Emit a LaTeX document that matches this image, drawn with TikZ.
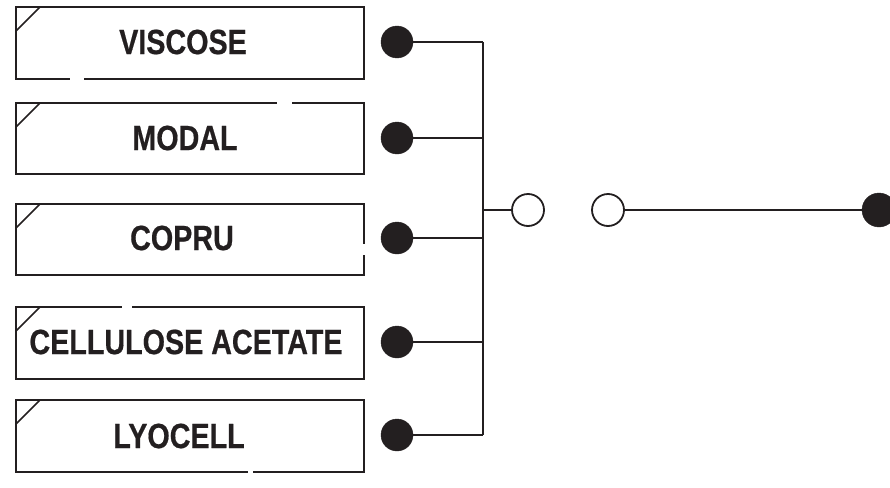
\documentclass[tikz,border=0pt]{standalone}
\usepackage{fontspec}
\usepackage{graphicx}
\setmainfont{Liberation Sans}
\newfontfamily\lblfont{Liberation Sans Bold}[FakeBold=0.6]
\definecolor{ink}{HTML}{231F20}
\begin{document}
\begin{tikzpicture}[x=1pt,y=1pt,
  fibrebox/.style={draw=ink, line width=1.8pt, minimum width=348pt, minimum height=72pt, inner sep=0pt, outer sep=0pt},
  lbl/.style={text=ink, font=\fontsize{35}{35}\lblfont, inner sep=0pt},
  bigdot/.style={circle, fill=ink, draw=ink, minimum size=32pt, inner sep=0pt},
  opendot/.style={circle, fill=white, draw=ink, line width=1.8pt, minimum size=32pt, inner sep=0pt},
  wire/.style={draw=ink, line width=1.8pt},
  gap/.style={fill=white, draw=none}]
\useasboundingbox (0,0) rectangle (890,-487);

% boxes
\node[fibrebox] (b1) at (190,-43) {};
\node[fibrebox, minimum height=71pt] (b2) at (190,-138.5) {};
\node[fibrebox, minimum height=71pt] (b3) at (190,-239.5) {};
\node[fibrebox] (b4) at (190,-343) {};
\node[fibrebox] (b5) at (190,-436) {};

% corner ticks
\foreach \b in {b1,b2,b3,b4,b5}{
  \draw[wire, line width=1.6pt] ([yshift=-24pt]\b.north west) -- ([xshift=24pt]\b.north west);
}

% gaps in borders
\fill[gap] (70,-75) rectangle (84,-83);
\fill[gap] (277,-99) rectangle (292,-107);
\fill[gap] (360,-244) rectangle (368,-255);
\fill[gap] (122,-303) rectangle (132,-311);
\fill[gap] (248,-468) rectangle (253,-476);

% labels
\node[lbl] (t1) at (183,-42) {\scalebox{0.82}[1]{VISCOSE}};
\node[lbl] (t2) at (185,-138) {\scalebox{0.82}[1]{MODAL}};
\node[lbl] (t3) at (182,-238) {\scalebox{0.82}[1]{COPRU}};
\node[lbl] (t4) at (186,-342) {\scalebox{0.82}[1]{CELLULOSE ACETATE}};
\node[lbl] (t5) at (179,-436) {\scalebox{0.82}[1]{LYOCELL}};

% dots
\node[bigdot] (d1) at (397,-42) {};
\node[bigdot] (d2) at (397,-138) {};
\node[bigdot] (d3) at (397,-238) {};
\node[bigdot] (d4) at (397,-342) {};
\node[bigdot] (d5) at (397,-435) {};

\coordinate (j1) at (483,-42);
\coordinate (j2) at (483,-138);
\coordinate (j3) at (483,-238);
\coordinate (j4) at (483,-342);
\coordinate (j5) at (483,-435);
\coordinate (jh) at (483,-210);

\node[opendot] (o1) at (528,-210) {};
\node[opendot] (o2) at (608,-210) {};
\node[bigdot, minimum size=34pt] (e) at (879,-210) {};

\draw[wire] (j1) -- (j5);
\foreach \i in {1,...,5}{ \draw[wire] (d\i) -- (j\i); }
\draw[wire] (jh) -- (o1);
\draw[wire] (o2) -- (e);
\end{tikzpicture}
\end{document}
